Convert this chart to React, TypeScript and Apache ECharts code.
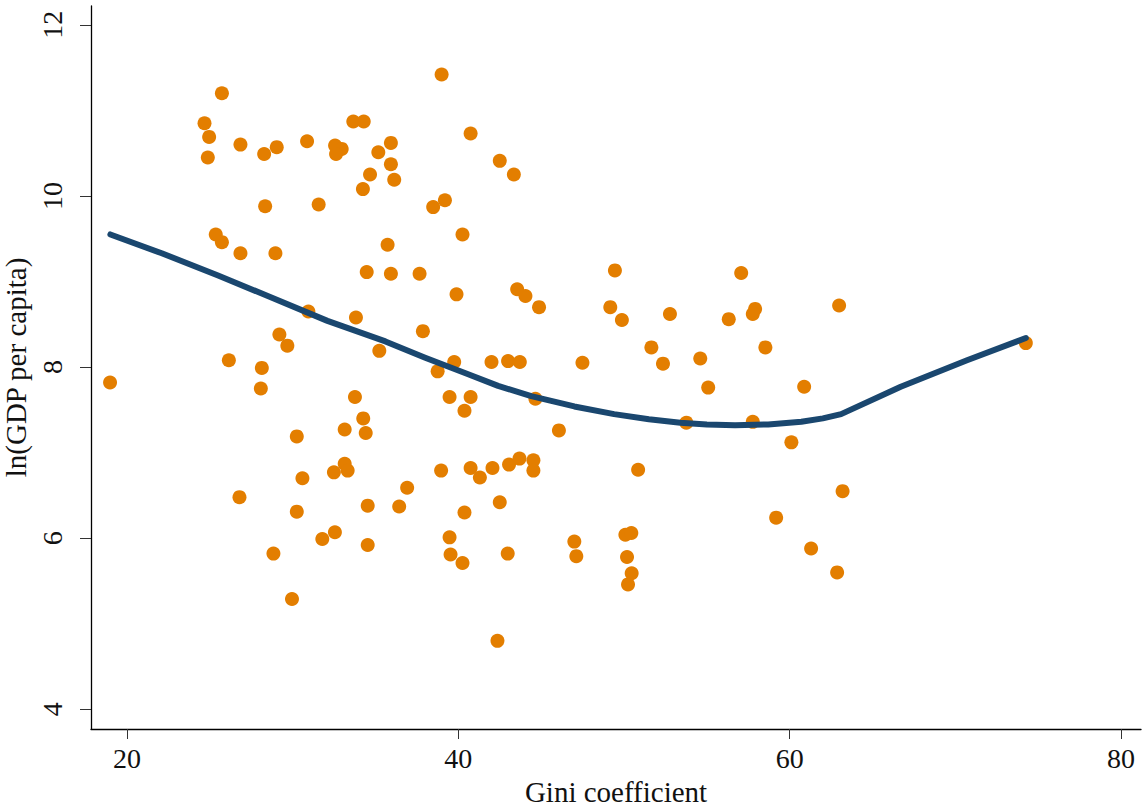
import React, { useEffect, useRef } from "react";
import * as echarts from "echarts";

// Scatter data: Gini coefficient vs ln(GDP per capita)
const gini: number[] = [
  25.73, 24.68, 24.96, 24.88, 26.85, 28.28, 29.04, 30.87, 32.56, 32.96, 32.62, 33.66, 34.29, 35.17, 35.93, 35.93, 36.13,
  34.67, 34.24, 28.34, 31.57, 25.36, 25.73, 26.85, 28.96, 35.73, 34.47, 35.93, 30.95, 33.82, 29.2, 29.68, 35.23,
  18.98, 26.15, 28.14, 28.08, 33.76, 34.26, 33.14, 34.41, 30.25, 33.14, 32.49, 33.32, 30.59, 36.91, 26.79, 34.53,
  36.43, 30.25, 32.55, 31.79, 34.53, 28.84, 29.96,
  38.99, 40.74, 42.5, 43.35, 39.19, 38.48, 40.25, 37.66, 39.89, 37.86, 49.45, 43.55, 44.05, 44.87, 49.17, 49.87,
  52.77, 56.32, 51.65,
  39.75, 38.75, 42.0, 43.0, 43.71, 47.49, 52.35, 54.6, 55.08, 39.47, 40.74, 40.37, 44.65, 46.07, 53.76, 38.96, 40.74,
  41.3, 42.06, 43.06, 43.69, 44.53, 44.53, 50.85, 42.5, 40.37, 39.47, 39.53, 40.25, 42.98, 47.0, 47.12, 50.08, 50.44,
  50.18, 50.46, 50.24, 42.36,
  57.07, 57.91, 57.77, 62.98, 58.53, 60.87, 57.77, 60.1, 63.19, 59.18, 61.29, 62.86, 74.25,
];
const lnGdp: number[] = [
  11.2, 10.85, 10.69, 10.45, 10.6, 10.49, 10.57, 10.64, 10.59, 10.55, 10.49, 10.87, 10.87, 10.51, 10.62, 10.37, 10.19,
  10.25, 10.08, 9.88, 9.9, 9.55, 9.46, 9.33, 9.33, 9.43, 9.11, 9.09, 8.65, 8.58, 8.38, 8.25, 8.19,
  7.82, 8.08, 7.99, 7.75, 7.65, 7.4, 7.27, 7.23, 7.19, 6.87, 6.77, 6.79, 6.7, 6.59, 6.48, 6.38,
  6.37, 6.31, 6.07, 5.99, 5.92, 5.82, 5.29,
  11.42, 10.73, 10.41, 10.25, 9.95, 9.87, 9.55, 9.09, 8.85, 8.42, 9.13, 8.91, 8.83, 8.7, 8.7, 8.55,
  8.62, 8.56, 8.23,
  8.06, 7.95, 8.06, 8.07, 8.06, 8.05, 8.04, 8.1, 7.76, 7.65, 7.65, 7.49, 7.63, 7.26, 7.35, 6.79, 6.82,
  6.71, 6.82, 6.86, 6.93, 6.91, 6.79, 6.8, 6.42, 6.3, 6.01, 5.81, 5.71, 5.82, 5.96, 5.79, 6.04, 6.06,
  5.78, 5.59, 5.46, 4.8,
  9.1, 8.68, 8.62, 8.72, 8.23, 7.77, 7.36, 7.12, 6.55, 6.24, 5.88, 5.6, 8.28,
];

// Lowess fit line
const fitX: number[] = [19.0, 22.1, 25.5, 28.5, 32.1, 35.6, 38.0, 40.4, 42.4, 44.4, 47.0, 49.4, 51.5, 53.4, 55.0, 56.7, 58.7, 60.7, 62.0, 63.1, 66.7, 70.7, 74.25];
const fitY: number[] = [9.55, 9.33, 9.07, 8.83, 8.54, 8.3, 8.11, 7.93, 7.78, 7.66, 7.54, 7.45, 7.39, 7.35, 7.33, 7.32, 7.33, 7.36, 7.4, 7.45, 7.77, 8.08, 8.34];

const xTicks: number[] = [20, 40, 60, 80];
const yTicks: number[] = [4, 6, 8, 10, 12];

const FONT = "'Liberation Serif', 'DejaVu Serif', serif";

export default function App() {
  const ref = useRef<HTMLDivElement>(null);
  useEffect(() => {
    if (!ref.current) return;
    const chart = echarts.init(ref.current, undefined, { renderer: "svg" });
    const scatter = gini.map((g, i) => [g, lnGdp[i]]);
    const fit = fitX.map((x, i) => [x, fitY[i]]);
    chart.setOption({
      animation: false,
      backgroundColor: "#ffffff",
      grid: { left: 91, right: 2, top: 6, bottom: 80, containLabel: false, outerBoundsMode: "none" },
      xAxis: {
        type: "value",
        min: 17.83,
        max: 81.2,
        name: "Gini coefficient",
        nameLocation: "middle",
        nameGap: 48,
        nameTextStyle: { fontFamily: FONT, fontSize: 29, color: "#111" },
        axisLine: { show: true, onZero: false, lineStyle: { color: "#000", width: 1.3 } },
        axisTick: { show: true, length: 10, customValues: xTicks, lineStyle: { color: "#333", width: 1 } },
        axisLabel: { customValues: xTicks, margin: 15, fontFamily: FONT, fontSize: 28, color: "#111" },
        splitLine: { show: false },
      },
      yAxis: {
        type: "value",
        min: 3.77,
        max: 12.22,
        name: "ln(GDP per capita)",
        nameLocation: "middle",
        nameGap: 53,
        nameRotate: 90,
        nameTextStyle: { fontFamily: FONT, fontSize: 29, color: "#111" },
        axisLine: { show: true, onZero: false, lineStyle: { color: "#000", width: 1.3 } },
        axisTick: { show: true, length: 11, customValues: yTicks, lineStyle: { color: "#333", width: 1 } },
        axisLabel: { customValues: yTicks, rotate: 90, margin: 25, fontFamily: FONT, fontSize: 28, color: "#111" },
        splitLine: { show: false },
      },
      series: [
        {
          type: "scatter",
          data: scatter,
          symbol: "circle",
          symbolSize: 14,
          itemStyle: { color: "#e37e00", opacity: 1 },
          z: 2,
        },
        {
          type: "line",
          data: fit,
          smooth: false,
          showSymbol: false,
          symbol: "none",
          lineStyle: { color: "#1a476f", width: 6, cap: "round", join: "round" },
          z: 3,
        },
      ],
    });
    return () => chart.dispose();
  }, []);
  return <div ref={ref} style={{ position: "fixed", left: 0, top: 0, width: 1143, height: 809 }} />;
}
